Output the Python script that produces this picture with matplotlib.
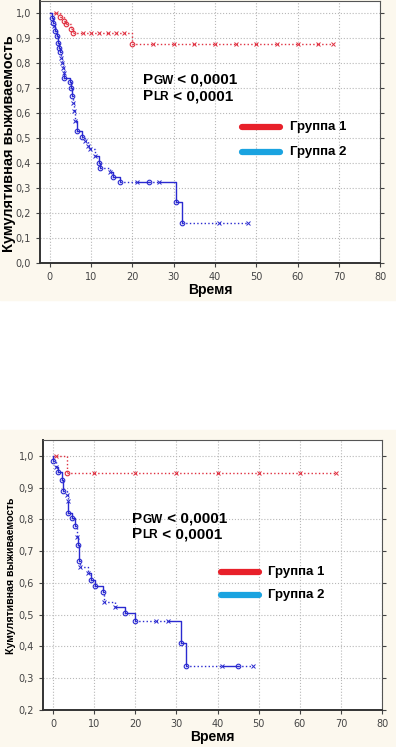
import matplotlib
matplotlib.use('Agg')
import matplotlib.pyplot as plt
from matplotlib.patches import Rectangle

# --- data (time, survival, kind: 'o' = event, 'x' = censored) ---
top_g2_t = [0, 0.5, 0.8, 1.0, 1.3, 1.6, 2.0, 2.2, 2.5, 2.8, 3.0, 3.2, 3.3, 3.4, 4.9, 5.2, 5.4, 5.6,
            5.8, 6.2, 6.5, 7.8, 8.6, 9.2, 9.6, 11.0, 12.0, 12.1, 14.5, 15.3, 17.0, 21.0, 24.0, 26.5,
            30.5, 32.0, 41.0, 48.0]
top_g2_s = [1.0, 0.98, 0.96, 0.95, 0.93, 0.91, 0.88, 0.86, 0.845, 0.82, 0.80, 0.78, 0.76, 0.74,
            0.725, 0.70, 0.67, 0.64, 0.61, 0.57, 0.53, 0.505, 0.49, 0.47, 0.455, 0.43, 0.40, 0.38,
            0.365, 0.345, 0.325, 0.325, 0.325, 0.325, 0.245, 0.16, 0.16, 0.16]
top_g2_k = ['-', 'o', 'o', 'x', 'o', 'o', 'o', 'o', 'o', 'x', 'x', 'x', 'x', 'o', 'o', 'o', 'o', 'x',
            'x', 'x', 'o', 'o', 'x', 'x', 'x', 'x', 'o', 'o', 'x', 'o', 'o', 'x', 'o', 'x',
            'o', 'o', 'x', 'x']

top_g1_t = [0, 1.5, 2.5, 3.5, 4.0, 5.0, 5.5, 8, 10, 12, 14, 16, 18, 20, 25, 30, 35, 40, 45, 50, 55, 60, 65, 68.5]
top_g1_s = [1.0, 1.0, 0.985, 0.97, 0.955, 0.935, 0.92, 0.92, 0.92, 0.92, 0.92, 0.92, 0.92, 0.875,
            0.875, 0.875, 0.875, 0.875, 0.875, 0.875, 0.875, 0.875, 0.875, 0.875]
top_g1_k = ['-', 'x', 'o', 'o', 'o', 'o', 'o', 'x', 'x', 'x', 'x', 'x', 'x', 'o',
            'x', 'x', 'x', 'x', 'x', 'x', 'x', 'x', 'x', 'x']

bot_g2_t = [0, 0.1, 0.8, 1.2, 2.1, 2.4, 3.3, 3.6, 3.7, 4.6, 5.3, 5.8, 6.1, 6.2, 6.6, 8.6, 9.3,
            10.2, 12.2, 12.3, 15.0, 17.5, 20.0, 25.0, 28.0, 31.0, 32.3, 41.0, 45.0, 48.5]
bot_g2_s = [1.0, 0.985, 0.966, 0.95, 0.924, 0.89, 0.878, 0.857, 0.82, 0.805, 0.78, 0.745, 0.72,
            0.67, 0.65, 0.63, 0.61, 0.59, 0.573, 0.54, 0.525, 0.506, 0.48, 0.48, 0.48, 0.41, 0.34,
            0.34, 0.34, 0.34]
bot_g2_k = ['-', 'o', 'x', 'o', 'o', 'o', 'x', 'x', 'o', 'o', 'o', 'x', 'o', 'o', 'x', 'x', 'o',
            'o', 'o', 'x', 'x', 'o', 'o', 'x', 'x', 'o', 'o', 'x', 'o', 'x']

bot_g1_t = [0, 0.8, 3.3, 10, 20, 30, 40, 50, 60, 68.8]
bot_g1_s = [1.0, 1.0, 0.947, 0.947, 0.947, 0.947, 0.947, 0.947, 0.947, 0.947]
bot_g1_k = ['-', 'x', 'o', 'x', 'x', 'x', 'x', 'x', 'x', 'x']

x_ticks = [0, 10, 20, 30, 40, 50, 60, 70, 80]
top_yticks = [0.0, 0.1, 0.2, 0.3, 0.4, 0.5, 0.6, 0.7, 0.8, 0.9, 1.0]
bot_yticks = [0.2, 0.3, 0.4, 0.5, 0.6, 0.7, 0.8, 0.9, 1.0]
groups = ['Группа 1', 'Группа 2']
ylabel = 'Кумулятивная выживаемость'

RED = '#e03040'
BLUE = '#2a2ad0'
LEG_RED = '#e8202a'
LEG_BLUE = '#1aa3e0'
CREAM = '#fcf8ee'
FONT = 'Liberation Sans'


def km_curve(ax, t, s, k, color, all_dotted=False):
    for i in range(1, len(t)):
        ls = ':' if (all_dotted or k[i] == 'x') else '-'
        ax.plot([t[i - 1], t[i], t[i]], [s[i - 1], s[i - 1], s[i]], color=color, lw=1.0, ls=ls)
    for i in range(1, len(t)):
        if k[i] == 'o':
            ax.plot(t[i], s[i], marker='o', ms=3.3, mfc='none', mec=color, mew=0.8)
        else:
            ax.plot(t[i], s[i], marker='x', ms=3, color=color, mew=0.7)


def p_text(ax, x, y, sub):
    t1 = ax.text(x, y, 'P', transform=ax.transAxes, fontsize=11, fontweight='bold',
                 va='baseline', family=FONT)
    t2 = ax.annotate(sub, xy=(1, 0), xycoords=t1, fontsize=8.5, fontweight='bold',
                     va='bottom', family=FONT)
    ax.annotate(' < 0,0001', xy=(1, 0), xycoords=t2, fontsize=11, fontweight='bold',
                va='bottom', family=FONT)


def style_axes(ax, yticks, ylim):
    ax.set_xlim(-2.4, 80)
    ax.set_ylim(*ylim)
    ax.set_xticks(x_ticks)
    ax.set_xticklabels([str(v) for v in x_ticks])
    ax.set_yticks(yticks)
    ax.set_yticklabels([('%.1f' % v).replace('.', ',') for v in yticks])
    ax.grid(True, ls=':', color='#b8b8b8', lw=0.8)
    ax.tick_params(labelsize=7, colors='#444444', length=3, right=True)
    for sp in ['left', 'bottom']:
        ax.spines[sp].set_linewidth(1.4)
        ax.spines[sp].set_color('#333333')
    for sp in ['right', 'top']:
        ax.spines[sp].set_color('#555555')
    ax.set_xlabel('Время', fontsize=10, fontweight='bold', labelpad=1, family=FONT)


def legend(ax, x0, x1, xt, y1, y2):
    ax.plot([x0, x1], [y1, y1], color=LEG_RED, lw=4.5, solid_capstyle='round', transform=ax.transAxes)
    ax.plot([x0, x1], [y2, y2], color=LEG_BLUE, lw=4.5, solid_capstyle='round', transform=ax.transAxes)
    ax.text(xt, y1, groups[0], transform=ax.transAxes, va='center', fontsize=9.5,
            fontweight='bold', family=FONT)
    ax.text(xt, y2, groups[1], transform=ax.transAxes, va='center', fontsize=9.5,
            fontweight='bold', family=FONT)


fig = plt.figure(figsize=(3.96, 7.47), dpi=100)
fig.patch.set_facecolor('white')
fig.patches.append(Rectangle((0, 1 - 300 / 747), 1, 300 / 747, transform=fig.transFigure,
                             color=CREAM, zorder=-1))
fig.patches.append(Rectangle((0, 0), 1, 317 / 747, transform=fig.transFigure,
                             color=CREAM, zorder=-1))

ax1 = fig.add_axes([0.101, 0.648, 0.859, 0.351])
km_curve(ax1, top_g1_t, top_g1_s, top_g1_k, RED, all_dotted=True)
km_curve(ax1, top_g2_t, top_g2_s, top_g2_k, BLUE)
style_axes(ax1, top_yticks, (0.0, 1.05))
p_text(ax1, 0.303, 0.684, 'GW')
p_text(ax1, 0.303, 0.620, 'LR')
legend(ax1, 0.594, 0.706, 0.735, 0.517, 0.422)
fig.text(9 / 396, 1 - 144 / 747, ylabel, rotation=90, ha='center', va='center',
         fontsize=10.5, fontweight='bold', family=FONT)

ax2 = fig.add_axes([0.109, 0.0495, 0.856, 0.3615])
km_curve(ax2, bot_g1_t, bot_g1_s, bot_g1_k, RED, all_dotted=True)
km_curve(ax2, bot_g2_t, bot_g2_s, bot_g2_k, BLUE)
style_axes(ax2, bot_yticks, (0.2, 1.05))
p_text(ax2, 0.263, 0.693, 'GW')
p_text(ax2, 0.263, 0.637, 'LR')
legend(ax2, 0.525, 0.637, 0.664, 0.511, 0.426)
fig.text(11 / 396, 1 - 576 / 747, ylabel, rotation=90, ha='center', va='center',
         fontsize=7.6, fontweight='bold', family=FONT)

fig.savefig('out.png', dpi=100, facecolor=fig.get_facecolor())
